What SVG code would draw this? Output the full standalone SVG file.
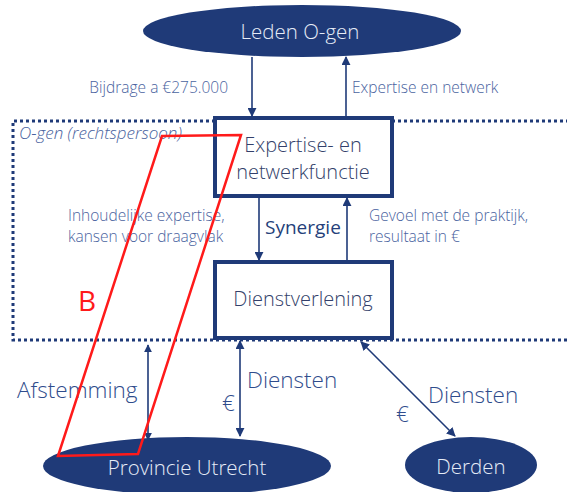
<svg xmlns="http://www.w3.org/2000/svg" width="567" height="492" viewBox="0 0 567 492">
<style>
text{font-family:"Open Sans","Noto Sans",sans-serif;font-weight:300}
.lbl{fill:#4A63A0;font-size:15.5px}
.big{fill:#2F4C8C;font-size:22.5px}
.node{fill:#1F3A78}
.ntxt{fill:#E6ECF7;font-size:20.5px;text-anchor:middle}
.box{fill:#fff;stroke:#1F3A78;stroke-width:4}
.btxt{fill:#333F6A;font-size:20px;text-anchor:middle}
.ln{stroke:#1F3A78;stroke-width:1.6;fill:none}
</style>
<defs>
<marker id="ah" viewBox="0 0 10 10" refX="9" refY="5" markerWidth="8" markerHeight="8" orient="auto-start-reverse" markerUnits="userSpaceOnUse">
<path d="M0,0 L10,5 L0,10 z" fill="#1F3A78"/>
</marker>
<marker id="ah2" viewBox="0 0 10 10" refX="9" refY="5" markerWidth="9" markerHeight="9" orient="auto-start-reverse" markerUnits="userSpaceOnUse">
<path d="M0,0 L10,5 L0,10 z" fill="#1F3A78"/>
</marker>
</defs>
<rect width="567" height="492" fill="#fff"/>
<g id="container">
<path d="M569,121 H13 V340 H569" fill="none" stroke="#1F3A78" stroke-width="3" stroke-dasharray="3 3"/>
<text x="19" y="139" font-size="17" font-style="italic" fill="#4A63A0">O-gen (rechtspersoon)</text>
</g>
<g id="connectors">
<line class="ln" x1="252" y1="57" x2="252" y2="116" marker-end="url(#ah2)"/>
<line class="ln" x1="346" y1="116" x2="346" y2="57" marker-end="url(#ah2)"/>
<line class="ln" x1="259" y1="198" x2="259" y2="260" marker-end="url(#ah2)"/>
<line class="ln" x1="347" y1="260" x2="347" y2="198" marker-end="url(#ah2)"/>
<line class="ln" x1="148" y1="345" x2="148" y2="440" marker-start="url(#ah)" marker-end="url(#ah)"/>
<line class="ln" x1="240" y1="341" x2="240" y2="436" marker-start="url(#ah2)" marker-end="url(#ah2)"/>
<line class="ln" x1="361" y1="342" x2="455" y2="436" marker-start="url(#ah2)" marker-end="url(#ah2)"/>
<text class="lbl" x="228" y="93" text-anchor="end">Bijdrage a €275.000</text>
<text class="lbl" x="352" y="93">Expertise en netwerk</text>
<text class="lbl" x="68" y="221">Inhoudelijke expertise,</text>
<text class="lbl" x="68" y="242">kansen voor draagvlak</text>
<text class="lbl" x="369" y="221">Gevoel met de praktijk,</text>
<text class="lbl" x="369" y="242">resultaat in €</text>
<text x="265" y="234" font-size="19" fill="#253F7A" style="font-weight:400">Synergie</text>
<text class="big" x="17" y="398">Afstemming</text>
<text class="big" x="247" y="388">Diensten</text>
<text class="big" x="222" y="411">€</text>
<text class="big" x="428" y="403">Diensten</text>
<text class="big" x="396" y="422">€</text>
</g>
<g id="leden">
<ellipse class="node" cx="302" cy="31" rx="159" ry="26"/>
<text class="ntxt" x="300" y="39">Leden O-gen</text>
</g>
<g id="expertise">
<rect class="box" x="215" y="118" width="177" height="78"/>
<text class="btxt" x="303" y="152">Expertise- en</text>
<text class="btxt" x="303" y="179">netwerkfunctie</text>
</g>
<g id="dienstverlening">
<rect class="box" x="215" y="262" width="177" height="76"/>
<text class="btxt" x="303" y="306">Dienstverlening</text>
</g>
<g id="provincie">
<ellipse class="node" cx="187" cy="466" rx="144" ry="29"/>
<text class="ntxt" x="187" y="475">Provincie Utrecht</text>
</g>
<g id="derden">
<ellipse class="node" cx="471" cy="465" rx="66" ry="28"/>
<text class="ntxt" x="471" y="474">Derden</text>
</g>
<g id="annotation">
<polygon points="162,136 241,135 138,454 58,456" fill="none" stroke="#FF1A1A" stroke-width="2.5"/>
<text x="78" y="311" font-size="28" fill="#FF1A1A" style="font-weight:400">B</text>
</g>
</svg>
